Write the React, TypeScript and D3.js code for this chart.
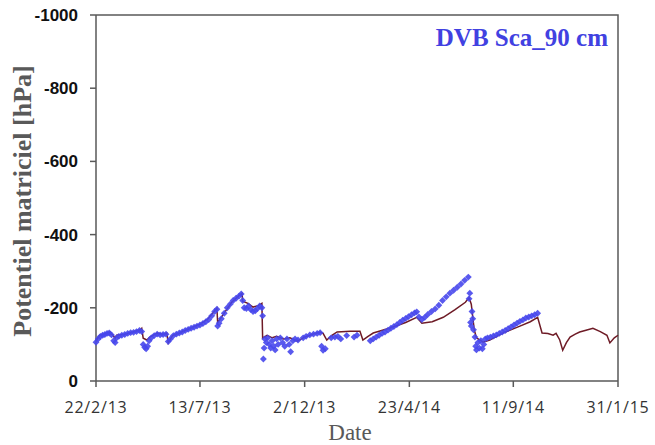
import { useMemo } from "react";
import * as d3 from "d3";

const WIDTH = 655;
const HEIGHT = 445;
const MARGIN = { top: 15, right: 37, bottom: 64, left: 96 };

const START = "22/2/13";
const END = "31/1/15";
const X_TICKS = ["22/2/13", "13/7/13", "2/12/13", "23/4/14", "11/9/14", "31/1/15"];
const Y_TICKS = [0, -200, -400, -600, -800, -1000];

// simulated curve: day offset from 22/2/13, potential in hPa
const simDays = [
  0, 5, 14, 19, 23, 26, 28, 39, 50, 60, 62, 64, 69, 73, 83, 91, 96, 98, 104, 114,
  123, 141, 152, 164, 165, 172, 184, 195, 198, 199, 206, 213, 220, 225, 226, 232,
  239, 245, 254, 263, 273, 283, 294, 304, 308, 313, 320, 327, 345, 358, 362, 369,
  376, 399, 420, 435, 442, 456, 471, 487, 501, 506, 509, 513, 516, 521, 525, 534,
  552, 575, 589, 599, 605, 613, 620, 624, 629, 633, 638, 643, 650, 656, 667, 674,
  684, 693, 697, 703, 708,
];
const simValues = [
  -110, -125, -130, -134, -125, -117, -125, -128, -134, -140, -144, -117, -112, -120, -131, -128, -131, -104, -125, -132,
  -140, -155, -170, -199, -160, -180, -215, -235, -240, -218, -212, -202, -206, -212, -117, -125,
  -118, -122, -115, -118, -109, -120, -128, -134, -130, -112, -125, -134, -136, -136, -112, -122,
  -131, -145, -160, -174, -158, -162, -174, -195, -215, -228, -210, -140, -118, -112, -106, -112,
  -131, -150, -162, -174, -131, -130, -125, -130, -112, -84, -105, -120, -128, -134, -140, -144,
  -135, -125, -104, -118, -125,
];

// measured points
const obsDays = [
  0, 3, 6, 9, 12, 15, 18, 21, 24, 26, 28, 31, 35, 39, 43, 47, 51, 55, 59, 62,
  64, 66, 68, 70, 72, 75, 79, 83, 87, 91, 95, 98, 101, 105, 109, 113, 117, 121, 125, 129,
  133, 137, 141, 145, 149, 153, 157, 161, 164, 165, 167, 170, 174, 178, 182, 186, 190, 194, 197, 199,
  201, 204, 207, 210, 213, 216, 219, 222, 225, 226,
  227, 228, 229, 231, 233, 235, 237, 239, 241, 243, 245, 247, 250, 253, 256, 259, 262, 264, 267, 270, 274,
  281, 285, 290, 295, 300, 304, 306, 308, 311, 319, 324, 328, 332, 340, 350, 354,
  372, 376, 380, 384, 388, 392, 396, 400, 404, 408, 412, 416, 420, 424, 428, 432, 435, 438, 442, 446,
  450, 455, 460, 465, 470, 475, 480, 485, 490, 495, 500, 505,
  506, 507, 508, 509, 510, 511, 512, 514, 515, 516, 518, 520, 522, 524, 526, 528, 531, 535, 539, 543,
  547, 551, 555, 559, 563, 567, 571, 575, 579, 583, 587, 591, 595, 599,
];
const obsValues = [
  -106, -115, -122, -125, -127, -130, -131, -126, -110, -105, -118, -122, -125, -127, -130, -132, -133, -135, -138, -135,
  -100, -92, -88, -95, -110, -118, -124, -128, -126, -127, -128, -108, -115, -124, -128, -131, -134, -138, -141, -144,
  -147, -150, -153, -157, -162, -168, -178, -190, -196, -150, -158, -170, -185, -200, -210, -220, -226, -232, -238, -220,
  -200, -198, -205, -195, -190, -192, -198, -205, -200, -178,
  -60, -90, -115, -105, -118, -100, -90, -110, -95, -85, -115, -100, -118, -105, -95, -115, -100, -80, -110, -115, -112,
  -118, -122, -126, -128, -130, -132, -95, -84, -88, -118, -120, -122, -115, -124, -120, -125,
  -110, -115, -120, -125, -130, -134, -139, -144, -149, -154, -160, -166, -171, -176, -181, -186, -189, -175, -168, -174,
  -182, -190, -197, -207, -220, -230, -240, -248, -256, -265, -275, -284,
  -225, -240, -160, -150, -190, -170, -140, -120, -95, -85, -105, -90, -110, -88, -100, -115, -118, -120, -123, -126,
  -130, -134, -138, -143, -148, -153, -158, -163, -167, -172, -175, -178, -181, -185,
];

const parseDate = d3.utcParse("%d/%m/%y");

export default function App() {
  const start = parseDate(START) as Date;
  const end = parseDate(END) as Date;

  const x = useMemo(
    () => d3.scaleUtc().domain([start, end]).range([MARGIN.left, WIDTH - MARGIN.right]),
    []
  );
  const y = useMemo(
    () => d3.scaleLinear().domain([0, -1000]).range([HEIGHT - MARGIN.bottom, MARGIN.top]),
    []
  );

  const sim = simDays.map((d, i) => ({ date: d3.utcDay.offset(start, d), v: simValues[i] }));
  const obs = obsDays.map((d, i) => ({ date: d3.utcDay.offset(start, d), v: obsValues[i] }));

  const line = d3
    .line<{ date: Date; v: number }>()
    .x((d) => x(d.date))
    .y((d) => y(d.v));

  const diamond = d3.symbol(d3.symbolDiamond2, 30)() ?? "";

  const x0 = MARGIN.left;
  const x1 = WIDTH - MARGIN.right;
  const y0 = HEIGHT - MARGIN.bottom;
  const y1 = MARGIN.top;
  const axisColor = "#595959";

  return (
    <svg
      width={WIDTH}
      height={HEIGHT}
      style={{ position: "absolute", left: 0, top: 0, background: "#fff" }}
    >
      {/* frame */}
      <path
        d={`M${x0},${y1}H${x1}V${y0}`}
        fill="none"
        stroke={axisColor}
        strokeWidth={1.5}
      />
      <line x1={x0} x2={x0} y1={y1} y2={y0} stroke={axisColor} strokeWidth={1.5} />
      <line x1={x0} x2={x1} y1={y0} y2={y0} stroke={axisColor} strokeWidth={1.5} />

      {Y_TICKS.map((t) => (
        <g key={t}>
          <line x1={x0 - 6} x2={x0} y1={y(t)} y2={y(t)} stroke={axisColor} strokeWidth={1.5} />
          <text
            x={78}
            y={y(t)}
            dy="0.35em"
            textAnchor="end"
            fontFamily="Liberation Sans, Arial, sans-serif"
            fontWeight="bold"
            fontSize={17}
            fill="#111"
          >
            {t}
          </text>
        </g>
      ))}

      {X_TICKS.map((t) => {
        const px = x(parseDate(t) as Date);
        return (
          <g key={t}>
            <line x1={px} x2={px} y1={y0} y2={y0 + 6} stroke={axisColor} strokeWidth={1.5} />
            <text
              x={px}
              y={413}
              textAnchor="middle"
              fontFamily="Open Sans, sans-serif"
              fontSize={16}
              letterSpacing={0.8}
              fill="#333"
            >
              {t}
            </text>
          </g>
        );
      })}

      <path d={line(sim) ?? ""} fill="none" stroke="#6e1b26" strokeWidth={1.5} />

      {obs.map((d, i) => (
        <path
          key={i}
          d={diamond}
          transform={`translate(${x(d.date)},${y(d.v)})`}
          fill="#4747ec"
          fillOpacity={0.9}
        />
      ))}

      <text
        x={608}
        y={46}
        textAnchor="end"
        fontFamily="Liberation Serif, Times New Roman, serif"
        fontWeight="bold"
        fontSize={25}
        fill="#4141e1"
      >
        DVB Sca_90 cm
      </text>

      <text
        x={350}
        y={440}
        textAnchor="middle"
        fontFamily="Liberation Serif, Times New Roman, serif"
        fontSize={23}
        fill={axisColor}
      >
        Date
      </text>

      <text
        transform={`translate(31,201) rotate(-90)`}
        textAnchor="middle"
        fontFamily="Liberation Serif, Times New Roman, serif"
        fontWeight="bold"
        fontSize={26}
        fill={axisColor}
      >
        Potentiel matriciel [hPa]
      </text>
    </svg>
  );
}
